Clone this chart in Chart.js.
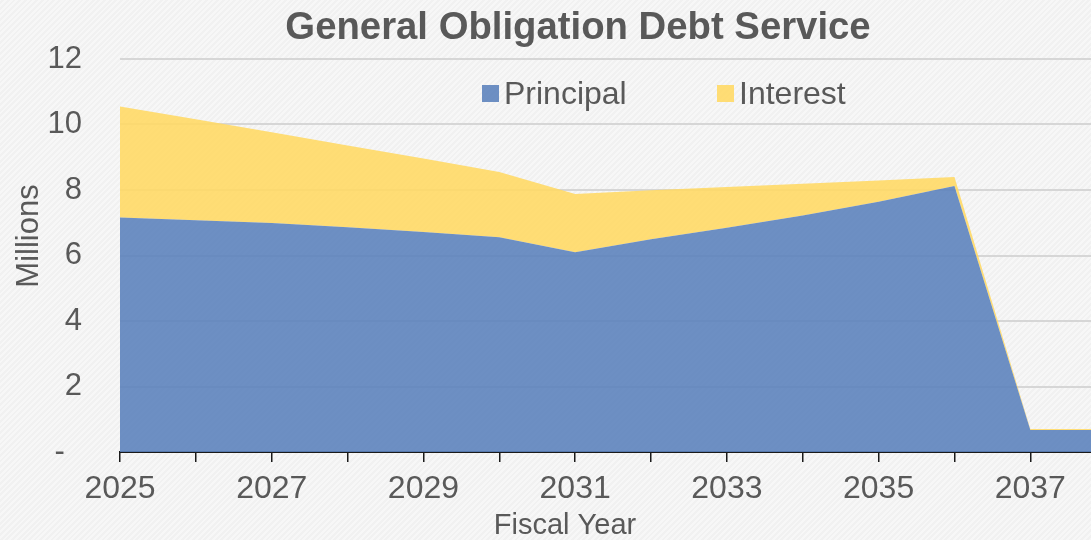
<!DOCTYPE html>
<html>
<head>
<meta charset="utf-8">
<script src="https://cdn.jsdelivr.net/npm/chart.js"></script>
<style>
  html, body { margin: 0; padding: 0; }
  body {
    width: 1091px;
    height: 540px;
    overflow: hidden;
    background-color: #f4f4f4;
    background-image: repeating-linear-gradient(-45deg, #f7f7f7 0 2px, #f1f1f1 2px 4px);
  }
  #wrap { position: relative; width: 1091px; height: 540px; }
</style>
</head>
<body>
<div id="wrap"><canvas id="chart" width="1091" height="540"></canvas></div>
<script>
  // fiscal years and debt service in millions
  const years = [2025, 2026, 2027, 2028, 2029, 2030, 2031, 2032, 2033, 2034, 2035, 2036, 2037, 2038];
  const principal = [7.16, 7.08, 6.99, 6.86, 6.72, 6.56, 6.10, 6.50, 6.85, 7.22, 7.64, 8.12, 0.67, 0.67];
  const interest = [3.39, 3.08, 2.77, 2.50, 2.24, 1.99, 1.78, 1.49, 1.24, 0.97, 0.65, 0.28, 0.03, 0.03];
  const yTickLabels = ["-  ", "2", "4", "6", "8", "10", "12"];
  const seriesNames = ["Principal", "Interest"];

  const TEXT = "#595959";
  const FONT = "'Liberation Sans', Arial, sans-serif";
  const BLUE = "rgba(93, 131, 188, 0.9)";
  const GOLD = "rgba(255, 217, 102, 0.9)";

  // title, legend and axis titles sit off-centre in the original, so draw them here
  const overlayText = {
    id: "overlayText",
    afterDraw(chart) {
      const ctx = chart.ctx;
      ctx.save();
      ctx.fillStyle = TEXT;

      ctx.font = "bold 38.3px " + FONT;
      ctx.textAlign = "center";
      ctx.textBaseline = "alphabetic";
      ctx.fillText("General Obligation Debt Service", 578, 39);

      ctx.font = "29px " + FONT;
      ctx.fillText("Fiscal Year", 565, 534);

      ctx.font = "31px " + FONT;
      ctx.save();
      ctx.translate(38, 236);
      ctx.rotate(-Math.PI / 2);
      ctx.fillText("Millions", 0, 0);
      ctx.restore();

      // legend
      const boxX = [482, 717];
      const textX = [504, 739];
      const colors = [BLUE, GOLD];
      ctx.font = "32px " + FONT;
      ctx.textAlign = "left";
      ctx.textBaseline = "alphabetic";
      seriesNames.forEach((name, i) => {
        ctx.fillStyle = colors[i];
        ctx.fillRect(boxX[i], 85, 17, 17);
        ctx.fillStyle = TEXT;
        ctx.fillText(name, textX[i], 104);
      });
      ctx.restore();
    },
  };

  new Chart(document.getElementById("chart"), {
    type: "line",
    data: {
      labels: years,
      datasets: [
        {
          label: seriesNames[0],
          data: principal,
          backgroundColor: BLUE,
          borderWidth: 0,
          pointRadius: 0,
          fill: "origin",
          tension: 0,
        },
        {
          label: seriesNames[1],
          data: interest,
          backgroundColor: GOLD,
          borderWidth: 0,
          pointRadius: 0,
          fill: "-1",
          tension: 0,
        },
      ],
    },
    options: {
      responsive: false,
      animation: false,
      layout: { padding: { top: 59, right: 0, bottom: 0, left: 0 } },
      plugins: {
        legend: { display: false },
        title: { display: false },
        tooltip: { enabled: false },
      },
      scales: {
        x: {
          type: "linear",
          min: 2025,
          max: 2037.8,
          z: 1,
          afterFit: (scale) => { scale.height = 88; },
          grid: {
            drawOnChartArea: false,
            drawTicks: true,
            tickLength: 10,
            color: "#1a1a1a",
            lineWidth: 1.5,
          },
          border: { color: "#1a1a1a", width: 2 },
          ticks: {
            stepSize: 1,
            includeBounds: false,
            autoSkip: false,
            maxRotation: 0,
            padding: 8,
            color: TEXT,
            font: { family: FONT, size: 32 },
            callback: (v) => (v % 2 === 1 ? String(v) : ""),
          },
        },
        y: {
          stacked: true,
          min: 0,
          max: 12,
          afterFit: (scale) => { scale.width = 120; },
          grid: { color: "#d6d6d6", lineWidth: 2, drawTicks: false },
          border: { display: false },
          ticks: {
            stepSize: 2,
            padding: 38,
            color: TEXT,
            font: { family: FONT, size: 31 },
            callback: (v) => yTickLabels[v / 2],
          },
        },
      },
    },
    plugins: [overlayText],
  });
</script>
</body>
</html>
